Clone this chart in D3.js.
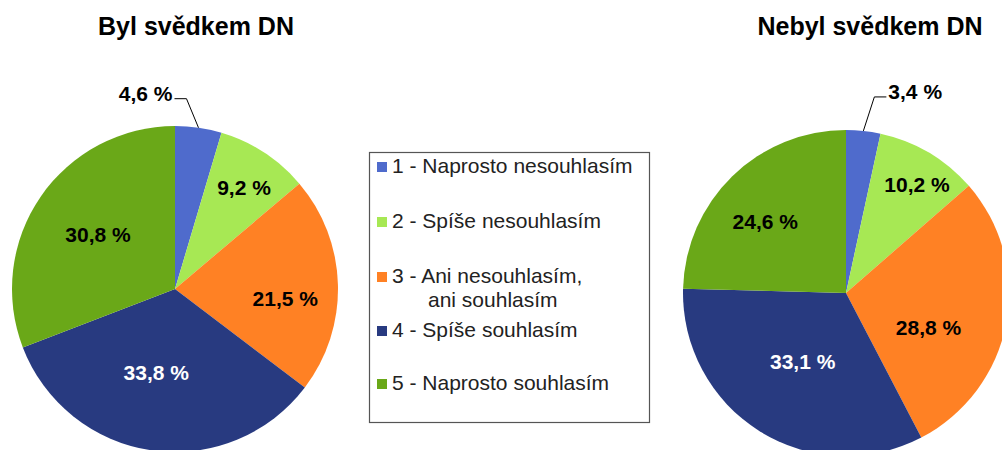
<!DOCTYPE html>
<html><head><meta charset="utf-8">
<script src="https://cdn.jsdelivr.net/npm/d3@7"></script>
<style>
html,body{margin:0;padding:0;background:#fff;}
svg{display:block;font-family:"Liberation Sans",Arial,sans-serif;}
</style></head>
<body><svg id="c" width="1002" height="450"></svg>
<script>
// ---- data ----
const categories = ["1 - Naprosto nesouhlasím", "2 - Spíše nesouhlasím", "3 - Ani nesouhlasím,\nani souhlasím", "4 - Spíše souhlasím", "5 - Naprosto souhlasím"];
const titles = ["Byl svědkem DN", "Nebyl svědkem DN"];
const witnessed = [4.6, 9.2, 21.5, 33.8, 30.8];
const notWitnessed = [3.4, 10.2, 28.8, 33.1, 24.6];
const colors = ["#4F6BCC", "#A7E854", "#FF8124", "#283A80", "#6AA818"];
const labelColors = ["#000", "#000", "#000", "#fff", "#000"];

// ---- layout (label nudges emulate "best fit" placement) ----
const pies = [
  {title: titles[0], values: witnessed, cx: 175, cy: 289, tx: 196,
   nudge: [[0,0],[12,-14],[6,13],[-4,-19],[9,5]], callout: -1, rise: 29},
  {title: titles[1], values: notWitnessed, cx: 846, cy: 293, tx: 870,
   nudge: [[0,0],[18,-18],[-20,16],[12,-19],[-8,4]], callout: 1, rise: 34}
];
const R = 163;
const fmt = v => d3.format(".1f")(v).replace(".", ",") + " %";

const svg = d3.select("#c");
const pie = d3.pie().sort(null).value(d => d);
const arc = d3.arc().innerRadius(0).outerRadius(R);
const labelArc = d3.arc().innerRadius(R * 0.64).outerRadius(R * 0.64);

pies.forEach(p => {
  svg.append("text").attr("x", p.tx).attr("y", 35).attr("text-anchor", "middle")
    .attr("font-size", 25).attr("font-weight", "bold").attr("fill", "#000").text(p.title);
  const g = svg.append("g").attr("transform", `translate(${p.cx},${p.cy})`);
  const arcs = pie(p.values);
  g.selectAll("path").data(arcs).join("path")
    .attr("d", arc).attr("fill", (d, i) => colors[i]);
  arcs.forEach((d, i) => {
    if (i === 0) {
      // callout label for the small slice
      const mid = (d.startAngle + d.endAngle) / 2;
      const x0 = Math.sin(mid) * R, y0 = -Math.cos(mid) * R;
      const x1 = x0 + p.callout * 11 + (p.callout < 0 ? -1 : 0), y1 = y0 - p.rise;
      const x2 = x1 + p.callout * 12;
      g.append("path").attr("d", `M${x0},${y0}L${x1},${y1}L${x2},${y1}`)
        .attr("fill", "none").attr("stroke", "#000").attr("stroke-width", 1);
      g.append("text").attr("x", x2 + p.callout * 2).attr("y", y1 + 2)
        .attr("text-anchor", p.callout < 0 ? "end" : "start")
        .attr("font-size", 21).attr("font-weight", "bold").attr("fill", labelColors[i])
        .text(fmt(d.data));
    } else {
      const c = labelArc.centroid(d);
      g.append("text").attr("x", c[0] + p.nudge[i][0]).attr("y", c[1] + p.nudge[i][1] + 7)
        .attr("text-anchor", "middle")
        .attr("font-size", 21).attr("font-weight", "bold").attr("fill", labelColors[i])
        .text(fmt(d.data));
    }
  });
});

// ---- legend ----
const lg = svg.append("g");
lg.append("rect").attr("x", 369.5).attr("y", 152.5).attr("width", 280).attr("height", 270)
  .attr("fill", "#fff").attr("stroke", "#555").attr("stroke-width", 1.2);
const rowBase = [173, 228, 283, 337, 390];
categories.forEach((c, i) => {
  const y = rowBase[i];
  lg.append("rect").attr("x", 377).attr("y", y - 11).attr("width", 10).attr("height", 10).attr("fill", colors[i]);
  const lines = c.split("\n");
  const t = lg.append("text").attr("font-size", 21).attr("fill", "#222");
  lines.forEach((ln, k) => {
    t.append("tspan").attr("x", k === 0 ? 392 : 428).attr("y", y + k * 24).text(ln);
  });
});
</script></body></html>
